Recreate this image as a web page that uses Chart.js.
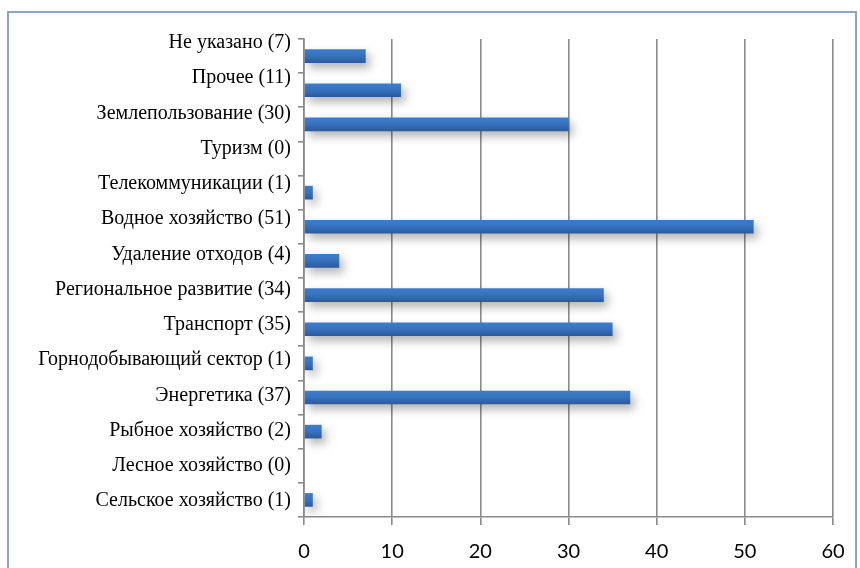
<!DOCTYPE html>
<html>
<head>
<meta charset="utf-8">
<script src="https://cdn.jsdelivr.net/npm/chart.js@4/dist/chart.umd.min.js"></script>
<style>
  html, body { margin: 0; padding: 0; background: #fff; }
  #wrap { position: relative; width: 860px; height: 568px; }
</style>
</head>
<body>
<div id="wrap"><canvas id="chart-0" width="860" height="568"></canvas></div>
<script>
// categories top to bottom, as in the picture
const sectors = [
  "Не указано", "Прочее", "Землепользование", "Туризм", "Телекоммуникации",
  "Водное хозяйство", "Удаление отходов", "Региональное развитие", "Транспорт",
  "Горнодобывающий сектор", "Энергетика", "Рыбное хозяйство", "Лесное хозяйство",
  "Сельское хозяйство"
];
const counts = [7, 11, 30, 0, 1, 51, 4, 34, 35, 1, 37, 2, 0, 1];
const xTicks = [0, 10, 20, 30, 40, 50, 60];

const labels = sectors.map((s, i) => s + " (" + counts[i] + ")");
const gridGray = "#8a8a8a";

// frame around the whole picture
const framePlugin = {
  id: "frame",
  beforeDraw(chart) {
    const ctx = chart.ctx;
    ctx.save();
    ctx.strokeStyle = "#8ea5c2";
    ctx.lineWidth = 2;
    ctx.strokeRect(8, 12, 848, 620);
    ctx.restore();
  }
};

// the category labels are spread a bit differently than the bars
const labelAxisPlugin = {
  id: "labelAxis",
  afterLayout(chart) {
    const s = chart.scales.yl;
    const a = chart.chartArea;
    s.top = a.top + 4;
    s.bottom = a.bottom - 16;
    s.height = s.bottom - s.top;
    s.configure();
  }
};

// gradient + soft shadow on the bars
const barLookPlugin = {
  id: "barLook",
  beforeDatasetDraw(chart, args) {
    const ctx = chart.ctx;
    args.meta.data.forEach((el) => {
      const p = el.getProps(["y", "height"], true);
      const g = ctx.createLinearGradient(0, p.y - p.height / 2, 0, p.y + p.height / 2);
      g.addColorStop(0, "#3e7dcc");
      g.addColorStop(0.5, "#3671bd");
      g.addColorStop(1, "#2b5a9a");
      el.options = Object.assign({}, el.options, { backgroundColor: g });
    });
    ctx.save();
    ctx.shadowColor = "rgba(0,0,0,0.3)";
    ctx.shadowBlur = 10;
    ctx.shadowOffsetX = 4;
    ctx.shadowOffsetY = 5;
  },
  afterDatasetDraw(chart) {
    chart.ctx.restore();
  }
};

new Chart(document.getElementById("chart-0"), {
  type: "bar",
  data: {
    labels: labels,
    datasets: [{
      data: counts,
      backgroundColor: "#3671bd",
      borderWidth: 0,
      barPercentage: 0.4,
      categoryPercentage: 1.0
    }]
  },
  plugins: [framePlugin, labelAxisPlugin, barLookPlugin],
  options: {
    indexAxis: "y",
    responsive: false,
    animation: false,
    layout: { padding: { top: 39, right: 27, left: 0, bottom: 0 } },
    plugins: {
      legend: { display: false },
      tooltip: { enabled: false }
    },
    scales: {
      x: {
        type: "linear",
        min: 0,
        max: 60,
        afterBuildTicks: (scale) => { scale.ticks = xTicks.map((v) => ({ value: v })); },
        afterFit: (scale) => { scale.height = 51; },
        ticks: {
          color: "#000",
          padding: 15,
          font: { family: "Lato", size: 20 }
        },
        grid: { color: gridGray, lineWidth: 1.6, tickLength: 8, drawTicks: true },
        border: { color: gridGray, width: 1.6 }
      },
      y: {
        type: "category",
        position: "left",
        weight: 0,
        afterFit: (scale) => { scale.width = 6; },
        ticks: { display: false },
        grid: { offset: true, drawOnChartArea: false, drawTicks: true, tickLength: 6, color: gridGray, lineWidth: 1.6 },
        border: { color: gridGray, width: 1.6 }
      },
      yl: {
        type: "category",
        position: "left",
        weight: 1,
        offset: false,
        afterFit: (scale) => { scale.width = 298; },
        ticks: {
          color: "#000",
          padding: 7,
          autoSkip: false,
          font: { family: "Liberation Serif", size: 20 }
        },
        grid: { display: false, drawTicks: false },
        border: { display: false }
      }
    }
  }
});
</script>
</body>
</html>
